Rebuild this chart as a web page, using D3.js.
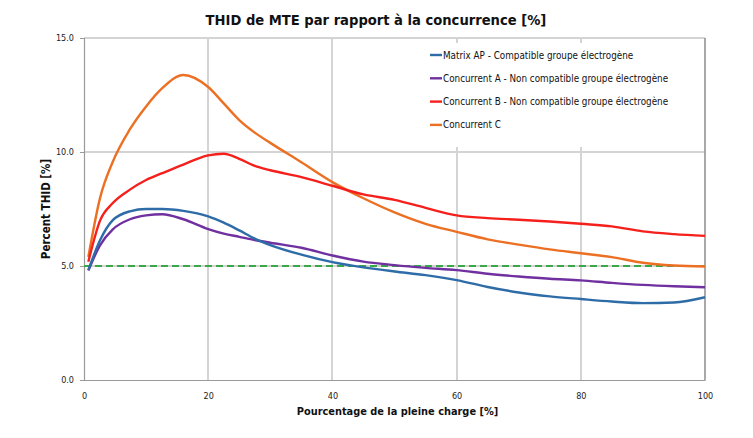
<!DOCTYPE html>
<html lang="fr">
<head>
<meta charset="utf-8">
<title>THID</title>
<style>
  body { margin: 0; background: #fff; }
  .grid line { stroke: #d4d4d4; shape-rendering: crispEdges; }
  .tick text { font-family: "DejaVu Sans Condensed", "DejaVu Sans", sans-serif; font-size: 9px; fill: #222; }
</style>
</head>
<body>
<div id="container"></div>
<script src="https://cdnjs.cloudflare.com/ajax/libs/d3/7.8.5/d3.min.js"></script>
<script>
// load points (% of full charge)
var load = [0.7, 2.6, 4.6, 7.4, 10, 12.6, 16, 20, 22.5, 25, 27.5, 30, 35, 40, 45, 50, 55, 60, 65, 70, 75, 80, 85, 90, 95, 100];

var matrixAP = [4.82, 6.14, 7.0, 7.4, 7.5, 7.5, 7.42, 7.18, 6.9, 6.56, 6.2, 5.92, 5.5, 5.17, 4.94, 4.76, 4.6, 4.38, 4.08, 3.84, 3.67, 3.55, 3.44, 3.37, 3.4, 3.63];
var concA    = [4.8, 5.92, 6.6, 7.05, 7.22, 7.27, 7.05, 6.62, 6.42, 6.28, 6.14, 6.02, 5.8, 5.46, 5.19, 5.04, 4.92, 4.82, 4.66, 4.54, 4.44, 4.37, 4.26, 4.17, 4.11, 4.07];
var concB    = [5.19, 7.0, 7.75, 8.35, 8.77, 9.07, 9.45, 9.85, 9.92, 9.7, 9.39, 9.2, 8.9, 8.52, 8.14, 7.9, 7.55, 7.22, 7.1, 7.03, 6.95, 6.85, 6.74, 6.52, 6.4, 6.32];
var concC    = [5.4, 8.0, 9.55, 11.0, 12.0, 12.8, 13.38, 12.85, 12.13, 11.4, 10.85, 10.4, 9.55, 8.68, 7.97, 7.35, 6.85, 6.5, 6.17, 5.94, 5.73, 5.56, 5.39, 5.14, 5.02, 4.98];

var seriesNames = ["Matrix AP - Compatible groupe électrogène",
                   "Concurrent A - Non compatible groupe électrogène",
                   "Concurrent B - Non compatible groupe électrogène",
                   "Concurrent C"];
var seriesColors = ["#2e6ca8", "#7030a0", "#f5201c", "#ec7024"];
var limitValue = 5.0;

var xTicks = [0, 20, 40, 60, 80, 100];
var yTicks = [0, 5, 10, 15];

var width = 753, height = 438;
var margin = {top: 38, right: 48, bottom: 58, left: 84};
var innerW = width - margin.left - margin.right,
    innerH = height - margin.top - margin.bottom;

var svg = d3.select("#container").append("svg")
    .attr("width", width).attr("height", height);

var chart = svg.append("g")
    .attr("transform", "translate(" + margin.left + "," + margin.top + ")");

var x = d3.scaleLinear().domain([0, 100]).range([0, innerW]);
var y = d3.scaleLinear().domain([0, 15]).range([innerH, 0]);

// gridlines
chart.append("g").attr("class", "grid")
  .selectAll("line").data(xTicks.slice(1, -1)).enter().append("line")
    .attr("x1", d => x(d)).attr("x2", d => x(d))
    .attr("y1", 0).attr("y2", innerH)
    .style("stroke-width", 2);
chart.append("g").attr("class", "grid")
  .selectAll("line").data(yTicks.slice(1)).enter().append("line")
    .attr("x1", 0).attr("x2", innerW)
    .attr("y1", d => y(d)).attr("y2", d => y(d))
    .style("stroke-width", 1.5);

// right border
chart.append("line")
  .attr("x1", innerW).attr("x2", innerW).attr("y1", 0).attr("y2", innerH)
  .attr("stroke", "#8c8c8c").attr("stroke-width", 1.5);

// axes
var xAxis = chart.append("g")
  .attr("transform", "translate(0," + innerH + ")")
  .call(d3.axisBottom(x).tickValues(xTicks).tickSize(0).tickPadding(13));
var yAxis = chart.append("g")
  .call(d3.axisLeft(y).tickValues(yTicks).tickSizeOuter(0).tickSize(4).tickPadding(6).tickFormat(d3.format(".1f")));
[xAxis, yAxis].forEach(function(a) {
  a.select(".domain").attr("stroke", "#9a9a9a").attr("stroke-width", 1.2);
  a.selectAll(".tick line").attr("stroke", "#9a9a9a");
});

// limit line
chart.append("line")
  .attr("x1", x(0)).attr("x2", x(100))
  .attr("y1", y(limitValue)).attr("y2", y(limitValue))
  .attr("stroke", "#3aa848").attr("stroke-width", 2.2)
  .attr("stroke-dasharray", "7,4");

// series
var allSeries = [matrixAP, concA, concB, concC];
var line = d3.line()
  .x((d, i) => x(load[i]))
  .y(d => y(d))
  .curve(d3.curveMonotoneX);

// draw C first so blue ends on top like the reference
[3, 2, 1, 0].forEach(function(k) {
  chart.append("path")
    .datum(allSeries[k])
    .attr("fill", "none")
    .attr("stroke", seriesColors[k])
    .attr("stroke-width", 2.4)
    .attr("stroke-linejoin", "round")
    .attr("d", line);
});

// legend
var legend = svg.append("g").attr("transform", "translate(420,43)");
legend.append("rect").attr("width", 282).attr("height", 104).attr("fill", "#fff");
seriesNames.forEach(function(name, i) {
  var g = legend.append("g").attr("transform", "translate(10," + (12 + i * 23.3) + ")");
  g.append("line").attr("x1", 0).attr("x2", 12).attr("y1", 0).attr("y2", 0)
    .attr("stroke", seriesColors[i]).attr("stroke-width", 2.4);
  g.append("text").attr("x", 13).attr("y", 3.5)
    .style("font-family", "'DejaVu Sans Condensed', 'DejaVu Sans', sans-serif")
    .style("font-size", "9.8px").style("fill", "#111")
    .text(name);
});

// titles
svg.append("text")
  .attr("x", 376).attr("y", 25)
  .attr("text-anchor", "middle")
  .style("font-family", "'DejaVu Sans Condensed', 'DejaVu Sans', sans-serif")
  .style("font-weight", "bold").style("font-size", "14.6px").style("fill", "#111")
  .text("THID de MTE par rapport à la concurrence [%]");

svg.append("text")
  .attr("x", margin.left + innerW / 2 + 3).attr("y", 415)
  .attr("text-anchor", "middle")
  .style("font-family", "'DejaVu Sans Condensed', 'DejaVu Sans', sans-serif")
  .style("font-weight", "bold").style("font-size", "10.9px").style("fill", "#111")
  .text("Pourcentage de la pleine charge [%]");

svg.append("text")
  .attr("transform", "translate(50," + (margin.top + innerH / 2) + ") rotate(-90)")
  .attr("text-anchor", "middle")
  .style("font-family", "'DejaVu Sans Condensed', 'DejaVu Sans', sans-serif")
  .style("font-weight", "bold").style("font-size", "11.5px").style("fill", "#111")
  .text("Percent THID [%]");
</script>
</body>
</html>
